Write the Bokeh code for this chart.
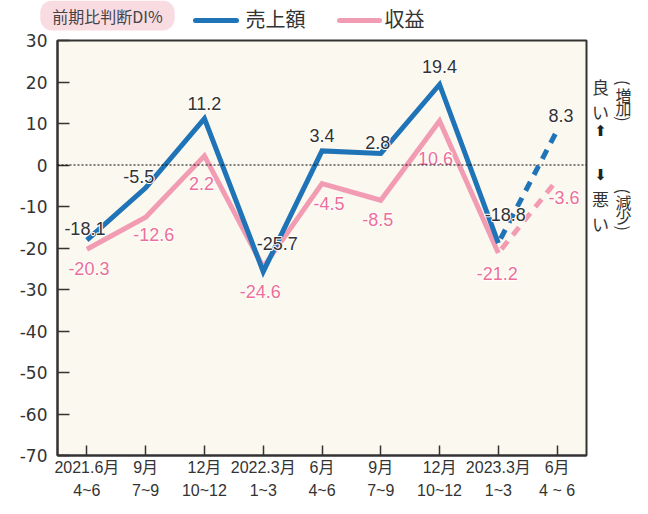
from bokeh.plotting import figure
from bokeh.models import (Range1d, FixedTicker, Span, Label, LinearAxis,
                          ColumnDataSource)
from bokeh.layouts import column, row
from bokeh.core.properties import value
from bokeh.embed import file_html
from bokeh.resources import INLINE

# ---- data ----
period_top = ["2021.6月", "9月", "12月", "2022.3月", "6月", "9月", "12月", "2023.3月", "6月"]
period_bottom = ["4~6", "7~9", "10~12", "1~3", "4~6", "7~9", "10~12", "1~3", "4 ~ 6"]
sales = [-18.1, -5.5, 11.2, -25.7, 3.4, 2.8, 19.4, -18.8, 8.3]
profit = [-20.3, -12.6, 2.2, -24.6, -4.5, -8.5, 10.6, -21.2, -3.6]
y_ticks = [30, 20, 10, 0, -10, -20, -30, -40, -50, -60, -70]
series_names = ["売上額", "収益"]

# label offsets (pixels, screen)
sales_dx = [-2, -7, 0, 14, 0, -3, 0, 7, 4]
sales_dy = [-12, -11, -15, -28, -15, -11, -18, -29, -15]
profit_dx = [2, 8, -3, -3, 7, -3, -4, -1, 7]
profit_dy = [19, 17, 28, 24, 20, 19, 37, 21, 18]

BLUE = "#1f73b7"
PINK = "#f29cb4"
PINK_TXT = "#ec6f98"
DARK = "#333333"
CJK = "Noto Sans CJK JP"
XFONT = "Liberation Sans, Noto Sans CJK JP"

xs = list(range(len(period_top)))
n_solid = len(xs) - 1  # last segment is a forecast (dashed)

TOP_H = 32

# ---------------- main chart ----------------
p = figure(width=588, height=514 - TOP_H, output_backend="svg", toolbar_location=None,
           x_range=Range1d(-0.5, len(xs) - 0.5), y_range=Range1d(-70, 30),
           min_border_left=57, min_border_right=2, min_border_top=40 - TOP_H,
           min_border_bottom=59)
p.background_fill_color = "#fbf8ef"
p.border_fill_color = "white"
p.outline_line_color = DARK
p.outline_line_width = 2
p.xgrid.visible = False
p.ygrid.visible = False

p.xaxis.ticker = FixedTicker(ticks=xs)
p.xaxis.major_label_overrides = {i: s for i, s in enumerate(period_top)}
p.xaxis.major_tick_in = 10
p.xaxis.major_tick_out = 0
p.xaxis.minor_tick_line_color = None
p.xaxis.major_label_standoff = 3
p.xaxis.major_label_text_font = XFONT
p.xaxis.major_label_text_font_size = "16px"
p.xaxis.major_label_text_color = DARK

ax2 = LinearAxis(ticker=FixedTicker(ticks=xs),
                 major_label_overrides={i: s for i, s in enumerate(period_bottom)})
ax2.axis_line_color = None
ax2.major_tick_line_color = None
ax2.minor_tick_line_color = None
ax2.major_tick_in = 0
ax2.major_tick_out = 0
ax2.major_label_standoff = 3
ax2.major_label_text_font = XFONT
ax2.major_label_text_font_size = "16px"
ax2.major_label_text_color = DARK
p.add_layout(ax2, "below")

p.yaxis.ticker = FixedTicker(ticks=y_ticks)
p.yaxis.major_label_overrides = {t: str(t) for t in y_ticks}
p.yaxis.major_tick_in = 12
p.yaxis.major_tick_out = 0
p.yaxis.minor_tick_line_color = None
p.yaxis.major_label_standoff = 10
p.yaxis.major_label_text_font = "DejaVu Sans"
p.yaxis.major_label_text_font_size = "17px"
p.yaxis.major_label_text_color = DARK

for ax in (p.xaxis[0], p.yaxis[0]):
    ax.axis_line_color = DARK
    ax.axis_line_width = 2
    ax.major_tick_line_color = DARK
    ax.major_tick_line_width = 1.5

p.add_layout(Span(location=0, dimension="width", line_color="black",
                  line_width=1, line_dash="2 2"))

LW = 5
p.line(xs[:n_solid], profit[:n_solid], line_color=PINK, line_width=LW, line_join="miter")
p.line(xs[n_solid - 1:], profit[n_solid - 1:], line_color=PINK, line_width=LW,
       line_dash="10 8", line_dash_offset=-5)
p.line(xs[:n_solid], sales[:n_solid], line_color=BLUE, line_width=LW, line_join="miter")
p.line(xs[n_solid - 1:], sales[n_solid - 1:], line_color=BLUE, line_width=LW,
       line_dash="10 8", line_dash_offset=-5)

src_s = ColumnDataSource(dict(x=xs, y=sales, t=[f"{v:.1f}" for v in sales],
                              dx=sales_dx, dy=sales_dy))
src_p = ColumnDataSource(dict(x=xs, y=profit, t=[f"{v:.1f}" for v in profit],
                              dx=profit_dx, dy=profit_dy))
for src, col in ((src_p, PINK_TXT), (src_s, DARK)):
    common = dict(x="x", y="y", text="t", x_offset="dx", y_offset="dy", source=src,
                  text_align="center", text_baseline="middle",
                  text_font=value("Liberation Sans"), text_font_size="18px")
    # white halo
    p.text(text_color="white", text_outline_color="white", **common)
    p.text(text_color=col, **common)

# ---------------- top strip (badge + legend) ----------------
top = figure(width=648, height=TOP_H, output_backend="svg", toolbar_location=None,
             x_range=Range1d(0, 648), y_range=Range1d(TOP_H, 0),
             x_axis_type=None, y_axis_type=None, min_border=0)
top.outline_line_color = None
top.xgrid.visible = False
top.ygrid.visible = False
top.add_layout(Label(x=107, y=15, text="前期比判断DI%", text_align="center",
                     text_baseline="middle", text_font=CJK, text_font_size="16px",
                     text_color="#444444", background_fill_color="#f9dbe2",
                     border_radius=12, padding=(12, 3)))
top.segment(x0=[195, 339], y0=[20, 20], x1=[236, 379], y1=[20, 20],
            line_color=[BLUE, PINK], line_width=5, line_cap="round")
top.text(x=[245, 384], y=[18, 18], text=series_names, text_baseline="middle",
         text_font=value(CJK), text_font_size="20px", text_color=DARK)

# ---------------- right strip (direction notes) ----------------
side = figure(width=60, height=514 - TOP_H, output_backend="svg", toolbar_location=None,
              x_range=Range1d(588, 648), y_range=Range1d(514, TOP_H),
              x_axis_type=None, y_axis_type=None, min_border=0)
side.outline_line_color = None
side.xgrid.visible = False
side.ygrid.visible = False
side.text(x=[600, 600, 600, 600], y=[85, 115, 215, 244], text=["良", "い", "悪", "い"],
          text_align="center", text_baseline="middle", text_font=value(CJK),
          text_font_size="17px", text_color=DARK)
side.text(x=[623] * 4, y=[95, 110, 220, 236], text=["増", "加", "減", "少"],
          text_align="center", text_baseline="middle", text_font=value(CJK),
          text_font_size="16px", text_color=DARK)
side.text(x=[623] * 4, y=[81, 123, 207, 250], text=["(", ")", "(", ")"],
          angle=-1.5708, text_align="center", text_baseline="middle",
          text_font=value(CJK), text_font_size="16px", text_color=DARK)
side.text(x=[600, 600], y=[137, 188], text=["⬆", "⬇"], text_align="center",
          text_baseline="middle", text_font=value("DejaVu Sans"),
          text_font_size="15px", text_color="#222222")

layout = column(top, row(p, side, spacing=0), spacing=0)
open("out.html", "w").write(file_html(layout, INLINE))
